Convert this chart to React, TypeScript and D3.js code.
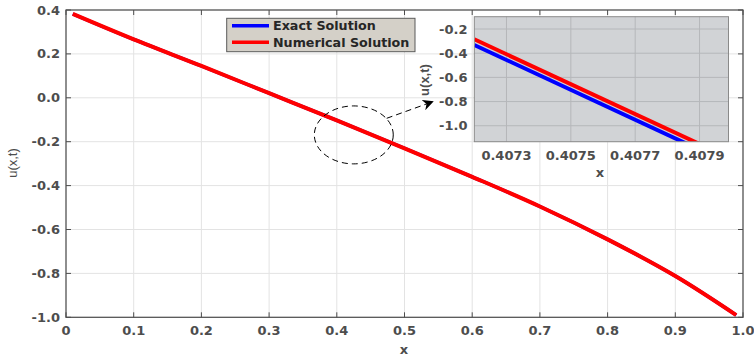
import * as d3 from "d3";

// main curve
const xs = [0.01, 0.1, 0.2, 0.3, 0.4, 0.5, 0.6, 0.7, 0.8, 0.9, 0.99];
const exactU = [0.382, 0.266, 0.145, 0.021, -0.103, -0.23, -0.36, -0.495, -0.645, -0.812, -0.99];
const numericalU = [0.382, 0.266, 0.145, 0.021, -0.103, -0.23, -0.36, -0.495, -0.645, -0.812, -0.99];

const xTicks = [0, 0.1, 0.2, 0.3, 0.4, 0.5, 0.6, 0.7, 0.8, 0.9, 1.0];
const yTicks = [0.4, 0.2, 0.0, -0.2, -0.4, -0.6, -0.8, -1.0];

// zoomed inset
const insetX = [0.4072, 0.4079];
const insetExact = [-0.332, -1.198];
const insetNumerical = [-0.285, -1.151];
const insetXTicks = [0.4073, 0.4075, 0.4077, 0.4079];
const insetYTicks = [-0.2, -0.4, -0.6, -0.8, -1.0];

const legendLabels = ["Exact Solution", "Numerical Solution"];
const colors = ["#0000ff", "#ff0000"];

const tickFont = "DejaVu Sans, sans-serif";
const labelFont = "Liberation Sans, Arial, sans-serif";
const axisColor = "#4d4d4d";

export default function App() {
  const x = d3.scaleLinear().domain([0, 1]).range([66, 743]);
  const y = d3.scaleLinear().domain([-1, 0.4]).range([317.3, 10]);

  const line = d3
    .line<number>()
    .x((d, i) => x(xs[i]))
    .y((d) => y(d))
    .curve(d3.curveCatmullRom);

  const ix = d3.scaleLinear().domain([0.4072, 0.40799]).range([474.3, 728.5]);
  const iy = d3.scaleLinear().domain([-1.132, -0.098]).range([141.7, 16.7]);
  const iline = d3
    .line<number>()
    .x((d, i) => ix(insetX[i]))
    .y((d) => iy(d));

  // ellipse + arrow annotation in data coords
  const ec = [0.4251, -0.169];
  const arrowFrom = [0.4737, -0.0934];
  const arrowTo = [0.5417, -0.0178];

  const [x0, x1] = x.range();
  const [y0, y1] = y.range();
  const [ix0, ix1] = ix.range();
  const [iy0, iy1] = iy.range();

  return (
    <svg
      width={754}
      height={357}
      style={{ position: "absolute", left: 0, top: 0, background: "#fff" }}
    >
      <defs>
        <clipPath id="insetClip">
          <rect x={ix0} y={iy1} width={ix1 - ix0} height={iy0 - iy1} />
        </clipPath>
        <marker id="arr" viewBox="0 0 10 10" refX="9" refY="5" markerWidth="11" markerHeight="11" orient="auto" markerUnits="userSpaceOnUse">
          <path d="M0,0 L10,5 L0,10 L3,5 Z" fill="#000" />
        </marker>
      </defs>

      {/* grid */}
      {xTicks.map((t) => (
        <line key={"gx" + t} x1={x(t)} x2={x(t)} y1={y0} y2={y1} stroke="#e3e3e3" strokeWidth={1} />
      ))}
      {yTicks.map((t) => (
        <line key={"gy" + t} x1={x0} x2={x1} y1={y(t)} y2={y(t)} stroke="#e3e3e3" strokeWidth={1} />
      ))}

      {/* curves */}
      <path d={line(exactU) || ""} fill="none" stroke={colors[0]} strokeWidth={3.4} />
      <path d={line(numericalU) || ""} fill="none" stroke={colors[1]} strokeWidth={4} />

      {/* frame + ticks */}
      <rect x={x0} y={y1} width={x1 - x0} height={y0 - y1} fill="none" stroke={axisColor} strokeWidth={1.2} />
      {xTicks.map((t) => (
        <g key={"tx" + t}>
          <line x1={x(t)} x2={x(t)} y1={y0} y2={y0 - 5} stroke={axisColor} />
          <line x1={x(t)} x2={x(t)} y1={y1} y2={y1 + 5} stroke={axisColor} />
          <text x={x(t)} y={335} textAnchor="middle" fontFamily={tickFont} fontWeight="bold" fontSize={13} fill={axisColor}>
            {t === 0 ? "0" : t.toFixed(1)}
          </text>
        </g>
      ))}
      {yTicks.map((t) => (
        <g key={"ty" + t}>
          <line x1={x0} x2={x0 + 5} y1={y(t)} y2={y(t)} stroke={axisColor} />
          <line x1={x1} x2={x1 - 5} y1={y(t)} y2={y(t)} stroke={axisColor} />
          <text x={60} y={y(t) + 4.5} textAnchor="end" fontFamily={tickFont} fontWeight="bold" fontSize={13} fill={axisColor}>
            {t.toFixed(1)}
          </text>
        </g>
      ))}
      <text x={404} y={354} textAnchor="middle" fontFamily={tickFont} fontWeight="bold" fontSize={13} fill={axisColor}>
        x
      </text>
      <text transform="translate(17,163) rotate(-90)" textAnchor="middle" fontFamily={labelFont} fontSize={13} fill={axisColor}>
        u(x,t)
      </text>

      {/* legend */}
      <rect x={226.7} y={18.3} width={188.3} height={33.4} fill="#d4d0c8" stroke="#5a5a5a" strokeWidth={1} />
      {legendLabels.map((l, i) => (
        <g key={l}>
          <line x1={232} x2={269} y1={25.7 + i * 16.6} y2={25.7 + i * 16.6} stroke={colors[i]} strokeWidth={3.5} />
          <text x={273} y={30.3 + i * 16.6} fontFamily={tickFont} fontWeight="bold" fontSize={12.7} fill="#262626">
            {l}
          </text>
        </g>
      ))}

      {/* annotation */}
      <ellipse
        cx={x(ec[0])}
        cy={y(ec[1])}
        rx={x(ec[0] + 0.0583) - x(ec[0])}
        ry={y(ec[1]) - y(ec[1] + 0.132)}
        fill="none"
        stroke="#000"
        strokeWidth={1}
        strokeDasharray="6,4"
      />
      <line
        x1={x(arrowFrom[0])}
        y1={y(arrowFrom[1])}
        x2={x(arrowTo[0])}
        y2={y(arrowTo[1])}
        stroke="#000"
        strokeWidth={1}
        strokeDasharray="6,4"
        markerEnd="url(#arr)"
      />

      {/* inset */}
      <rect x={ix0} y={iy1} width={ix1 - ix0} height={iy0 - iy1} fill="#d1d3d6" />
      {insetXTicks.map((t) => (
        <line key={"igx" + t} x1={ix(t)} x2={ix(t)} y1={iy0} y2={iy1} stroke="#b5b7ba" strokeWidth={1} />
      ))}
      {insetYTicks.map((t) => (
        <line key={"igy" + t} x1={ix0} x2={ix1} y1={iy(t)} y2={iy(t)} stroke="#b5b7ba" strokeWidth={1} />
      ))}
      <g clipPath="url(#insetClip)">
        <path d={iline(insetExact) || ""} fill="none" stroke={colors[0]} strokeWidth={4} />
        <path d={iline(insetNumerical) || ""} fill="none" stroke={colors[1]} strokeWidth={4} />
      </g>
      <rect x={ix0} y={iy1} width={ix1 - ix0} height={iy0 - iy1} fill="none" stroke="#8a8a8a" strokeWidth={1} />
      {insetXTicks.map((t) => (
        <text key={"itx" + t} x={ix(t)} y={160} textAnchor="middle" fontFamily={tickFont} fontWeight="bold" fontSize={13} fill={axisColor}>
          {t.toFixed(4)}
        </text>
      ))}
      {insetYTicks.map((t) => (
        <text key={"ity" + t} x={467.5} y={iy(t) + 4.5} textAnchor="end" fontFamily={tickFont} fontWeight="bold" fontSize={13} fill={axisColor}>
          {t.toFixed(1)}
        </text>
      ))}
      <text x={600} y={177} textAnchor="middle" fontFamily={tickFont} fontWeight="bold" fontSize={13} fill={axisColor}>
        x
      </text>
      <text transform="translate(429,80) rotate(-90)" textAnchor="middle" fontFamily={labelFont} fontWeight="bold" fontSize={13} fill={axisColor}>
        u(x,t)
      </text>
    </svg>
  );
}
